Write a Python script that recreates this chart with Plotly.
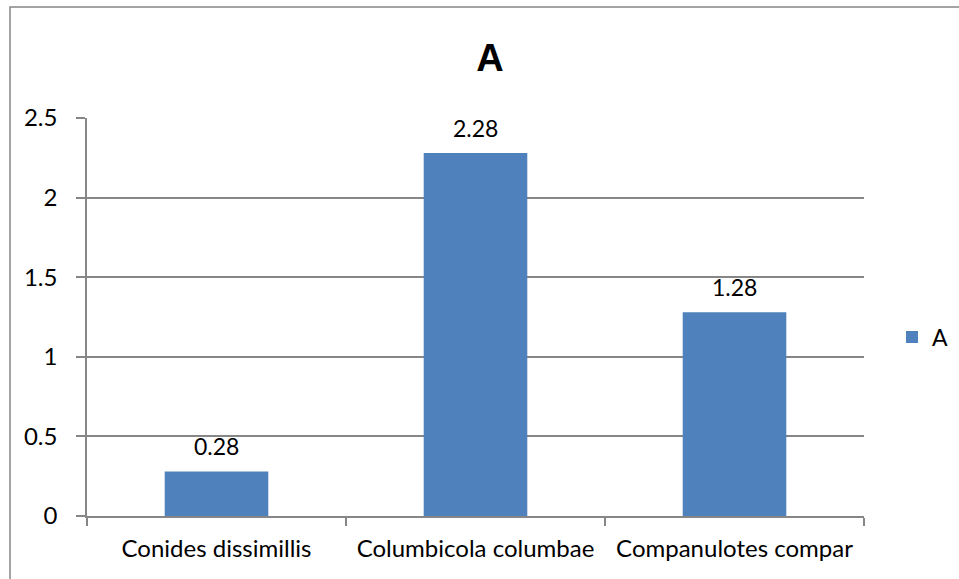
import plotly.graph_objects as go

# Data
species = ["Conides dissimillis", "Columbicola columbae", "Companulotes compar"]
values_a = [0.28, 2.28, 1.28]
series_name = "A"
y_ticks = [0, 0.5, 1, 1.5, 2, 2.5]
y_tick_text = ["0", "0.5", "1", "1.5", "2", "2.5"]

BAR_BLUE = "#4F81BD"
GRID_GREY = "#868686"
FONT = "Lato, 'Open Sans', sans-serif"
TXT = 24

# Plot-area geometry in pixels (used to place the outer chart frame)
W, H = 959, 579
L, R, T, B = 87, 95, 118, 63
pw, ph = W - L - R, H - T - B


def px_to_paper_x(px):
    return (px - L) / pw


def px_to_paper_y(py):
    return (H - B - py) / ph


fig = go.Figure()

fig.add_trace(go.Bar(
    x=species,
    y=values_a,
    name=series_name,
    marker=dict(color=BAR_BLUE, line=dict(width=0)),
    width=0.4,
    showlegend=True,
))

# Value labels above each bar
for cat, v in zip(species, values_a):
    fig.add_annotation(
        x=cat, y=v, text=f"{v:.2f}", showarrow=False,
        xref="x", yref="y", yanchor="bottom", yshift=9,
        font=dict(family=FONT, size=TXT - 1, color="black"),
    )

# Outer chart frame
fig.add_shape(
    type="rect", xref="paper", yref="paper",
    x0=px_to_paper_x(10), x1=px_to_paper_x(W + 5),
    y0=px_to_paper_y(H + 5), y1=px_to_paper_y(7),
    line=dict(color=GRID_GREY, width=1.5), fillcolor="rgba(0,0,0,0)",
    layer="below",
)

fig.update_layout(
    width=W, height=H,
    margin=dict(l=L, r=R, t=T, b=B, autoexpand=False),
    paper_bgcolor="white", plot_bgcolor="white",
    title=dict(
        text="<b>A</b>", x=490 / W, xanchor="center", xref="container",
        y=1 - 58 / H, yanchor="middle", yref="container",
        font=dict(family="Liberation Sans, Arial, sans-serif", size=38, color="black"),
    ),
    legend=dict(
        x=px_to_paper_x(892), xanchor="left",
        y=px_to_paper_y(337), yanchor="middle",
        font=dict(family=FONT, size=TXT - 1, color="black"),
        bgcolor="rgba(0,0,0,0)",
        itemwidth=30,
    ),
    bargap=0.6,
)

fig.update_xaxes(
    type="category",
    showline=True, linecolor=GRID_GREY, linewidth=1.5,
    ticks="outside", tickson="boundaries", ticklen=8, tickcolor=GRID_GREY, tickwidth=1.5,
    showgrid=False,
    tickfont=dict(family=FONT, size=TXT, color="black"),
    ticklabelstandoff=10,
)

fig.update_yaxes(
    range=[0, 2.5],
    tickvals=y_ticks, ticktext=y_tick_text,
    showline=True, linecolor=GRID_GREY, linewidth=1.5,
    ticks="outside", ticklen=9, tickcolor=GRID_GREY, tickwidth=1.5,
    showgrid=True, gridcolor=GRID_GREY, gridwidth=1.5,
    zeroline=False,
    tickfont=dict(family=FONT, size=TXT, color="black"),
    ticklabelstandoff=14,
)

fig.write_html("out.html")
